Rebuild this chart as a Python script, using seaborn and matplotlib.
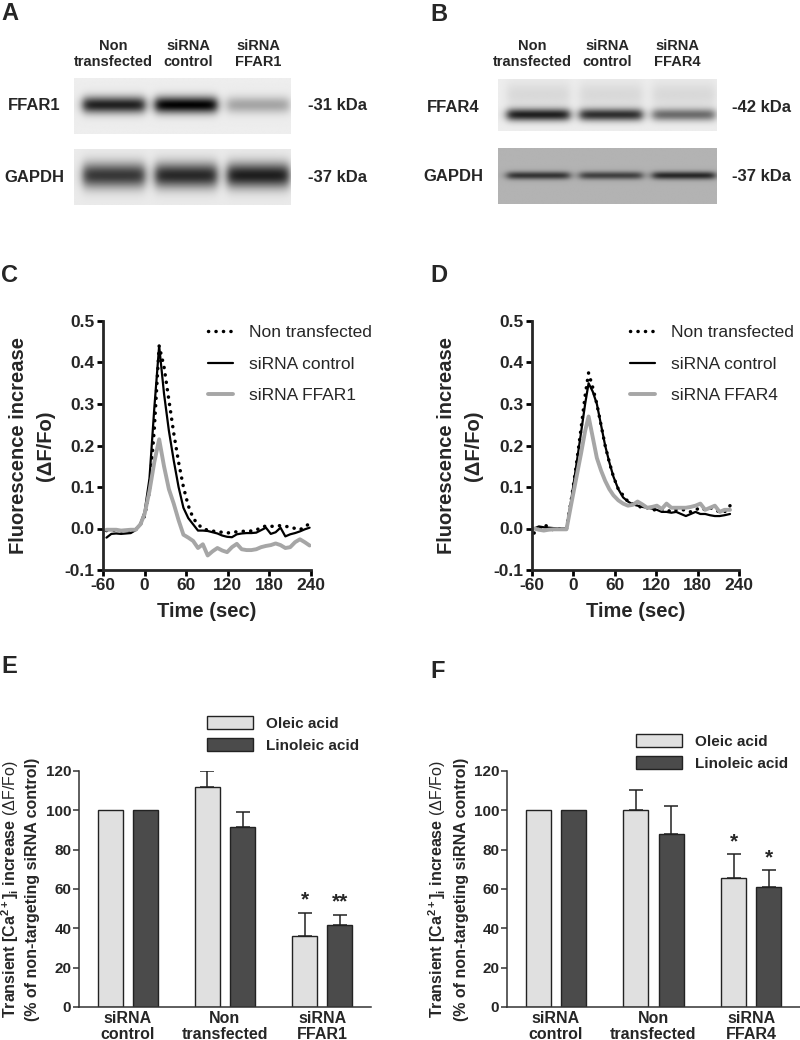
import numpy as np
import pandas as pd
import matplotlib
matplotlib.use('Agg')
import matplotlib.pyplot as plt
from matplotlib.patches import Patch
import seaborn as sns

# --- western blot band intensities (relative darkness per lane) ---
lanes = ['Non\ntransfected', 'siRNA\ncontrol', 'siRNA\nFFAR1']
lanes_b = ['Non\ntransfected', 'siRNA\ncontrol', 'siRNA\nFFAR4']
ffar1_band = [0.80, 0.92, 0.28]
gapdh_a_band = [0.70, 0.76, 0.80]
ffar4_band = [0.80, 0.74, 0.50]
gapdh_b_band = [0.50, 0.45, 0.55]

# --- calcium traces, panel C ---
time_c = [-55, -48, -41, -34, -27, -20, -13, -6, 0, 7, 14, 21, 28, 35, 42, 49, 56, 63, 70, 77,
          84, 91, 98, 105, 112, 119, 126, 133, 140, 147, 154, 161, 168, 175, 182, 189, 196, 203,
          210, 217, 224, 231, 238]
nontransf_c = [-0.005, -0.005, -0.004, -0.006, -0.005, -0.005, -0.003, 0.010, 0.030, 0.090, 0.240,
               0.440, 0.390, 0.310, 0.230, 0.160, 0.100, 0.055, 0.025, 0.010, 0.000, -0.004, -0.006,
               -0.008, -0.009, -0.011, -0.009, -0.008, -0.007, -0.006, -0.006, -0.004, 0.003, 0.006,
               0.005, 0.006, 0.007, 0.005, 0.004, 0.000, -0.003, 0.004, 0.012]
control_c = [-0.022, -0.013, -0.012, -0.013, -0.012, -0.011, -0.004, 0.012, 0.040, 0.120, 0.290,
             0.440, 0.325, 0.236, 0.164, 0.100, 0.050, 0.025, 0.010, -0.005, -0.005, -0.006, -0.009,
             -0.012, -0.017, -0.020, -0.021, -0.014, -0.012, -0.011, -0.011, -0.010, -0.004, 0.002,
             -0.013, -0.009, 0.002, -0.019, -0.014, -0.011, -0.007, -0.002, 0.002]
ffar1_c = [-0.003, -0.003, -0.003, -0.005, -0.004, -0.003, -0.003, 0.010, 0.035, 0.090, 0.160,
           0.215, 0.150, 0.095, 0.060, 0.020, -0.015, -0.022, -0.030, -0.047, -0.038, -0.065, -0.055,
           -0.047, -0.053, -0.057, -0.045, -0.037, -0.050, -0.052, -0.052, -0.050, -0.045, -0.042,
           -0.040, -0.036, -0.040, -0.047, -0.045, -0.033, -0.026, -0.033, -0.041]

# --- calcium traces, panel D ---
time_d = [-57, -50, -43, -36, -29, -22, -15, -10, -3, 4, 11, 17, 22, 28, 34, 40, 46, 52, 58, 65,
          72, 79, 86, 93, 100, 107, 114, 121, 128, 135, 142, 149, 156, 163, 170, 177, 184, 191,
          198, 205, 212, 219, 227]
nontransf_d = [-0.011, -0.003, 0.008, 0.005, -0.004, 0.000, -0.002, 0.000, 0.070, 0.150, 0.240,
               0.320, 0.375, 0.340, 0.300, 0.250, 0.200, 0.160, 0.125, 0.095, 0.080, 0.065, 0.060,
               0.055, 0.050, 0.050, 0.045, 0.045, 0.045, 0.045, 0.040, 0.045, 0.045, 0.045, 0.040,
               0.045, 0.050, 0.045, 0.050, 0.045, 0.040, 0.040, 0.055]
control_d = [0.000, 0.005, 0.003, 0.002, 0.001, 0.000, 0.000, 0.000, 0.070, 0.150, 0.230, 0.300,
             0.350, 0.330, 0.300, 0.250, 0.200, 0.160, 0.125, 0.095, 0.075, 0.065, 0.058, 0.055,
             0.052, 0.050, 0.048, 0.045, 0.040, 0.040, 0.038, 0.040, 0.035, 0.030, 0.035, 0.040,
             0.035, 0.035, 0.032, 0.030, 0.030, 0.032, 0.035]
ffar4_d = [0.000, -0.003, -0.005, -0.003, -0.002, -0.002, -0.002, -0.002, 0.060, 0.120, 0.180,
           0.235, 0.270, 0.220, 0.170, 0.140, 0.115, 0.095, 0.080, 0.068, 0.060, 0.055, 0.057,
           0.065, 0.058, 0.050, 0.052, 0.055, 0.047, 0.060, 0.050, 0.050, 0.050, 0.050, 0.052,
           0.055, 0.060, 0.045, 0.050, 0.055, 0.040, 0.045, 0.045]

# --- bar charts E / F ---
groups_e = ['siRNA\ncontrol', 'Non\ntransfected', 'siRNA\nFFAR1']
groups_f = ['siRNA\ncontrol', 'Non\ntransfected', 'siRNA\nFFAR4']
acids = ['Oleic acid', 'Linoleic acid']
oleic_e = [100, 111.8, 36.0]
oleic_e_err = [0, 8.2, 12.0]
linoleic_e = [100, 91.5, 41.9]
linoleic_e_err = [0, 7.5, 5.1]
stars_e = [['', '', '*'], ['', '', '**']]
oleic_f = [100, 100.0, 65.4]
oleic_f_err = [0, 10.3, 12.4]
linoleic_f = [100, 88.2, 61.1]
linoleic_f_err = [0, 14.1, 8.5]
stars_f = [['', '', '*'], ['', '', '*']]

sns.set_style('ticks')
plt.rcParams['font.family'] = ['Liberation Sans', 'DejaVu Sans']
plt.rcParams['axes.unicode_minus'] = False
plt.rcParams['mathtext.fontset'] = 'custom'
plt.rcParams['mathtext.rm'] = 'Liberation Sans'
plt.rcParams['mathtext.bf'] = 'Liberation Sans:bold'
plt.rcParams['mathtext.it'] = 'Liberation Sans:italic'

W, H = 800, 1040
fig = plt.figure(figsize=(W / 100, H / 100), dpi=100)


def axes_px(l, t, r, b):
    return fig.add_axes([l / W, 1 - b / H, (r - l) / W, (b - t) / H])


def ftext(x, y, s, **kw):
    fig.text(x / W, 1 - y / H, s, **kw)


def draw_blot(ax, bands, bg, yc, thick, haze=0.0):
    h, w = 80, 300
    X, Y = np.meshgrid(np.linspace(0, 3, w), np.linspace(0, 1, h))
    img = np.full((h, w), bg, dtype=float)
    for i, d in enumerate(bands):
        cx = i + 0.55
        px = 1 / (1 + np.exp((np.abs(X - cx) - 0.43) / 0.035))
        py = np.exp(-((Y - yc) / thick) ** 2)
        img -= d * px * py
        if haze:
            img -= haze * px * np.exp(-((Y - 0.3) / 0.25) ** 2)
    ax.imshow(np.clip(img, 0, 1), cmap='gray', vmin=0, vmax=1, extent=[0, 3, 1, 0],
              aspect='auto', interpolation='bilinear')
    ax.set_axis_off()


# ---------- A / B : blots ----------
ax = axes_px(74, 78, 291, 134)
draw_blot(ax, ffar1_band, 0.93, 0.48, 0.15)
ax = axes_px(74, 149, 291, 205)
draw_blot(ax, gapdh_a_band, 0.92, 0.48, 0.22)
ax = axes_px(498, 79, 717, 131)
draw_blot(ax, ffar4_band, 0.93, 0.69, 0.12, haze=0.08)
ax = axes_px(498, 148, 717, 204)
draw_blot(ax, gapdh_b_band, 0.70, 0.50, 0.07)

bold = dict(fontweight='bold')
for name, xs, lbls in [('A', [113, 188, 258], lanes), ('B', [532, 607, 677], lanes_b)]:
    for x, lbl in zip(xs, lbls):
        ftext(x, 54, lbl, ha='center', va='center', fontsize=10.5, linespacing=1.15, **bold)
ftext(34, 105, 'FFAR1', ha='center', va='center', fontsize=12, **bold)
ftext(34, 177, 'GAPDH', ha='center', va='center', fontsize=12, **bold)
ftext(308, 105, '-31 kDa', ha='left', va='center', fontsize=12, **bold)
ftext(308, 177, '-37 kDa', ha='left', va='center', fontsize=12, **bold)
ftext(453, 107, 'FFAR4', ha='center', va='center', fontsize=12, **bold)
ftext(453, 176, 'GAPDH', ha='center', va='center', fontsize=12, **bold)
ftext(732, 107, '-42 kDa', ha='left', va='center', fontsize=12, **bold)
ftext(732, 176, '-37 kDa', ha='left', va='center', fontsize=12, **bold)


# ---------- C / D : traces ----------
def trace_panel(box, t, nt, ctl, kd, kd_label, lab_x, leg_x):
    ax = axes_px(*box)
    sns.lineplot(x=t, y=ctl, ax=ax, color='black', lw=1.6, label='siRNA control',
                 estimator=None, sort=False)
    sns.lineplot(x=t, y=nt, ax=ax, color='black', lw=2.5, linestyle=(0, (0.05, 2.1)),
                 dash_capstyle='round', label='Non transfected', estimator=None, sort=False)
    sns.lineplot(x=t, y=kd, ax=ax, color='#a6a6a6', lw=2.8, label=kd_label,
                 estimator=None, sort=False)
    ax.set_xlim(-60, 240)
    ax.set_ylim(-0.1, 0.5)
    ax.set_xticks([-60, 0, 60, 120, 180, 240])
    ax.set_yticks([-0.1, 0.0, 0.1, 0.2, 0.3, 0.4, 0.5])
    ax.set_yticklabels(['-0.1', '0.0', '0.1', '0.2', '0.3', '0.4', '0.5'])
    sns.despine(ax=ax)
    for s in ['left', 'bottom']:
        ax.spines[s].set_linewidth(2.0)
    ax.tick_params(width=2.0, length=4.5, pad=1.5, labelsize=12.5, color='black')
    for lbl in ax.get_xticklabels() + ax.get_yticklabels():
        lbl.set_fontweight('bold')
    ax.set_xlabel('Time (sec)', fontsize=14.5, fontweight='bold', labelpad=6)
    ax.set_ylabel('')
    cy = (box[1] + box[3]) / 2
    ftext(lab_x[0], cy, 'Fluorescence increase', rotation=90, ha='center', va='center',
          fontsize=14.5, **bold)
    ftext(lab_x[1], cy, '(ΔF/Fo)', rotation=90, ha='center', va='center',
          fontsize=14.5, **bold)
    hd, lb = ax.get_legend_handles_labels()
    order = [1, 0, 2]
    ax.legend([hd[i] for i in order], [lb[i] for i in order], loc='upper left',
              bbox_to_anchor=(leg_x / W, 1 - 325 / H), bbox_transform=fig.transFigure,
              frameon=False, fontsize=12.5, handlelength=1.45, handletextpad=0.9,
              labelspacing=0.95, borderpad=0, borderaxespad=0)
    return ax


trace_panel((103, 321, 311, 570), time_c, nontransf_c, control_c, ffar1_c, 'siRNA FFAR1',
            (19, 45), 208)
trace_panel((532, 321, 739, 570), time_d, nontransf_d, control_d, ffar4_d, 'siRNA FFAR4',
            (447, 474), 630)

# ---------- E / F : bars ----------
light, dark = '#e0e0e0', '#4b4b4b'


def bar_panel(box, groups, ole, ole_err, lin, lin_err, stars, lab_x, leg_xy):
    ax = axes_px(*box)
    df = pd.DataFrame({'group': groups * 2,
                       'acid': [acids[0]] * 3 + [acids[1]] * 3,
                       'value': ole + lin})
    sns.barplot(data=df, x='group', y='value', hue='acid', order=groups, hue_order=acids,
                palette=[light, dark], width=0.72, gap=0.29, edgecolor='#222222',
                linewidth=1.0, errorbar=None, legend=False, ax=ax)
    for cont, vals, errs, st in zip(ax.containers, [ole, lin], [ole_err, lin_err], stars):
        for bar, v, e, s in zip(cont, vals, errs, st):
            xc = bar.get_x() + bar.get_width() / 2
            if e > 0:
                ax.errorbar([xc], [v], yerr=[[0], [e]], fmt='none', ecolor='#222222',
                            elinewidth=1.1, capsize=5, capthick=1.1)
            if s:
                ax.text(xc, v + e + 1.5, s, ha='center', va='bottom', fontsize=15,
                        fontweight='bold')
    ax.set_xlim(-0.5, 2.5)
    ax.set_ylim(0, 120)
    ax.set_yticks(range(0, 121, 20))
    sns.despine(ax=ax)
    for s in ['left', 'bottom']:
        ax.spines[s].set_linewidth(1.1)
        ax.spines[s].set_color('#333333')
    ax.tick_params(axis='y', length=4, width=1.1, pad=1.5, labelsize=11, color='#333333')
    ax.tick_params(axis='x', length=0, pad=3, labelsize=11.5)
    for lbl in ax.get_xticklabels() + ax.get_yticklabels():
        lbl.set_fontweight('bold')
        lbl.set_linespacing(1.05)
    ax.set_xlabel('')
    ax.set_ylabel('')
    cy = (box[1] + box[3]) / 2
    ftext(lab_x[0], cy, r'Transient [Ca$^{\mathbf{2+}}$]$_{\mathbf{i}}$ increase $\mathrm{(\Delta F/Fo)}$',
          rotation=90, ha='center', va='center', fontsize=11.5, **bold)
    ftext(lab_x[1], cy, '(% of non-targeting siRNA control)', rotation=90, ha='center',
          va='center', fontsize=11.5, **bold)
    handles = [Patch(facecolor=light, edgecolor='#222222', lw=1.0),
               Patch(facecolor=dark, edgecolor='#222222', lw=1.0)]
    ax.legend(handles, acids, loc='upper left',
              bbox_to_anchor=(leg_xy[0] / W, 1 - leg_xy[1] / H), bbox_transform=fig.transFigure,
              frameon=False, prop=dict(weight='bold', size=11), handlelength=3.0,
              handleheight=0.9, handletextpad=0.85, labelspacing=0.5, borderpad=0,
              borderaxespad=0)
    return ax


bar_panel((79, 771, 371, 1007), groups_e, oleic_e, oleic_e_err, linoleic_e, linoleic_e_err,
          stars_e, (10, 33), (207, 716))
bar_panel((507, 771, 800, 1007), groups_f, oleic_f, oleic_f_err, linoleic_f, linoleic_f_err,
          stars_f, (437, 461), (636, 734))

# panel letters
for letter, x, y in [('A', 1, 2), ('B', 430, 3), ('C', 1, 264), ('D', 430, 264),
                     ('E', 1, 655), ('F', 430, 660)]:
    ftext(x, y, letter, ha='left', va='top', fontsize=17, **bold)

fig.savefig('out.png', dpi=100)
